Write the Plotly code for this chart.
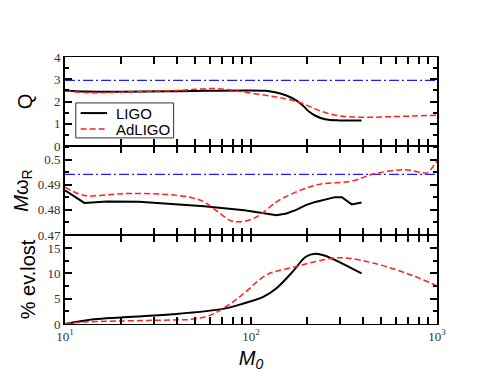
import plotly.graph_objects as go
from plotly.subplots import make_subplots

# Q panel
m_q_ligo = [10, 13, 20, 40, 92, 120, 137, 155, 175, 190, 205, 222, 250, 300, 393]
q_ligo = [2.5, 2.45, 2.44, 2.46, 2.5, 2.48, 2.4, 2.27, 2.05, 1.82, 1.55, 1.36, 1.2, 1.15, 1.15]
m_q_ad = [10, 13, 20, 40, 65, 92, 137, 182, 233, 297, 393, 566, 1000]
q_ad = [2.48, 2.4, 2.42, 2.5, 2.58, 2.42, 2.2, 1.97, 1.59, 1.36, 1.29, 1.32, 1.38]
q_ref = 2.95

# M omega_R panel
m_w_ligo = [10, 12.7, 16.8, 25, 56, 92, 115, 137, 155, 175, 197, 222, 283, 308, 348, 393]
w_ligo = [0.4878, 0.4828, 0.4834, 0.4833, 0.4815, 0.4799, 0.4788, 0.4779, 0.4786, 0.480,
          0.4819, 0.4832, 0.4851, 0.4851, 0.4822, 0.483]
m_w_ad = [10, 12.7, 20.7, 34.9, 48, 56, 67, 78, 88, 100, 113, 137, 174, 233, 348, 460, 661, 843, 887, 1000]
w_ad = [0.4891, 0.4858, 0.4865, 0.4862, 0.4849, 0.4832, 0.479, 0.4757, 0.4753, 0.4762, 0.4783,
        0.4832, 0.4871, 0.4902, 0.4915, 0.4944, 0.496, 0.4948, 0.4948, 0.4996]
w_ref = 0.4942

# % events lost panel
m_p_ligo = [10, 14.3, 20, 37.9, 72, 92, 117, 137, 168, 197, 222, 250, 308, 393]
p_ligo = [0, 0.93, 1.3, 1.92, 3.04, 4.1, 5.4, 7.07, 10.4, 13.3, 13.9, 13.5, 12.0, 10.0]
m_p_ad = [10, 11.3, 20, 37.9, 48, 61, 78, 92, 121, 168, 274, 335, 460, 689, 980]
p_ad = [0, 0.3, 0.6, 0.8, 0.93, 1.8, 4.1, 6.1, 9.7, 11.2, 13.0, 13.0, 12.0, 10.0, 7.7]

series_names = ["LIGO", "AdLIGO"]

x_ticks = [10, 20, 30, 40, 50, 60, 70, 80, 90, 100, 200, 300, 400, 500, 600, 700, 800, 900, 1000]
x_labels = ["10<sup>1</sup>"] + [""] * 8 + ["10<sup>2</sup>"] + [""] * 8 + ["10<sup>3</sup>"]

fig = make_subplots(rows=3, cols=1, shared_xaxes=True, vertical_spacing=0)

ligo = dict(color="black", width=2)
adligo = dict(color="#ff2020", width=1.5, dash="6px,3px")
blue = dict(color="#2020ff", width=1.2, dash="10px,3px,2px,3px")

fig.add_trace(go.Scatter(x=[10, 1000], y=[q_ref, q_ref], mode="lines", line=blue), row=1, col=1)
fig.add_trace(go.Scatter(x=m_q_ligo, y=q_ligo, mode="lines", line=ligo, line_shape="spline", name="LIGO"), row=1, col=1)
fig.add_trace(go.Scatter(x=m_q_ad, y=q_ad, mode="lines", line=adligo, line_shape="spline", name="AdLIGO"), row=1, col=1)

fig.add_trace(go.Scatter(x=[10, 1000], y=[w_ref, w_ref], mode="lines", line=blue), row=2, col=1)
fig.add_trace(go.Scatter(x=m_w_ligo, y=w_ligo, mode="lines", line=ligo), row=2, col=1)
fig.add_trace(go.Scatter(x=m_w_ad, y=w_ad, mode="lines", line=adligo, line_shape="spline"), row=2, col=1)

fig.add_trace(go.Scatter(x=m_p_ligo, y=p_ligo, mode="lines", line=ligo, line_shape="spline"), row=3, col=1)
fig.add_trace(go.Scatter(x=m_p_ad, y=p_ad, mode="lines", line=adligo, line_shape="spline"), row=3, col=1)

tickfont = dict(family="Liberation Serif", size=13, color="#333")
for r in (1, 2, 3):
    fig.update_xaxes(type="log", range=[1, 3], tickvals=x_ticks, ticktext=x_labels,
                     ticks="inside", ticklen=7, tickwidth=1.5, tickcolor="black",
                     showline=True, linecolor="black", linewidth=1.2, mirror="ticks",
                     showgrid=False, zeroline=False, tickfont=tickfont, row=r, col=1)
    fig.update_yaxes(ticks="inside", ticklen=7, tickwidth=1.5, tickcolor="black",
                     showline=True, linecolor="black", linewidth=2, mirror="ticks",
                     showgrid=False, zeroline=False, tickfont=tickfont,
                     title_font=dict(family="Liberation Sans", size=20, color="black"),
                     row=r, col=1)

fig.update_xaxes(showticklabels=True, row=3, col=1,
                 title=dict(text="<i>M<sub>0</sub></i>", standoff=8,
                            font=dict(family="Liberation Sans", size=20, color="black")))
fig.update_yaxes(range=[0, 4], dtick=1, minor=dict(ticks="inside", ticklen=4, dtick=0.5, tickcolor="black"),
                 title=dict(text="Q", standoff=16), row=1, col=1)
fig.update_yaxes(range=[0.47, 0.5055], tickvals=[0.47, 0.48, 0.49, 0.5], ticktext=["0.47", "0.48", "0.49", "0.5"],
                 minor=dict(ticks="inside", ticklen=4, dtick=0.005, tick0=0.47, tickcolor="black"),
                 title=dict(text="<i>M</i>ω<sub>R</sub>", standoff=4), row=2, col=1)
fig.update_yaxes(range=[0, 17.6], dtick=5, minor=dict(ticks="inside", ticklen=4, dtick=2.5, tickcolor="black"),
                 title=dict(text="% ev.lost", standoff=6), row=3, col=1)

# compact legend box (plotly's own legend is too tall for the top panel)
fig.add_shape(type="rect", xref="paper", yref="paper", x0=0.029, x1=0.292, y0=0.697, y1=0.828,
              line=dict(color="#333", width=1), fillcolor="white", layer="above")
for i, (name, style) in enumerate(zip(series_names, [ligo, adligo])):
    yy = 0.790 - i * 0.06
    fig.add_shape(type="line", xref="paper", yref="paper", x0=0.042, x1=0.113, y0=yy, y1=yy,
                  line=style, layer="above")
    fig.add_annotation(xref="paper", yref="paper", x=0.132, y=yy, text=name, showarrow=False,
                       xanchor="left", yanchor="middle",
                       font=dict(family="Liberation Sans", size=15, color="black"))

# page body has an 8px margin, so the figure is shrunk to fit the window
fig.update_layout(
    width=486, height=374,
    margin=dict(l=49, r=57, t=49, b=58),
    paper_bgcolor="white", plot_bgcolor="white",
    showlegend=False,
)

fig.write_html("out.html")
